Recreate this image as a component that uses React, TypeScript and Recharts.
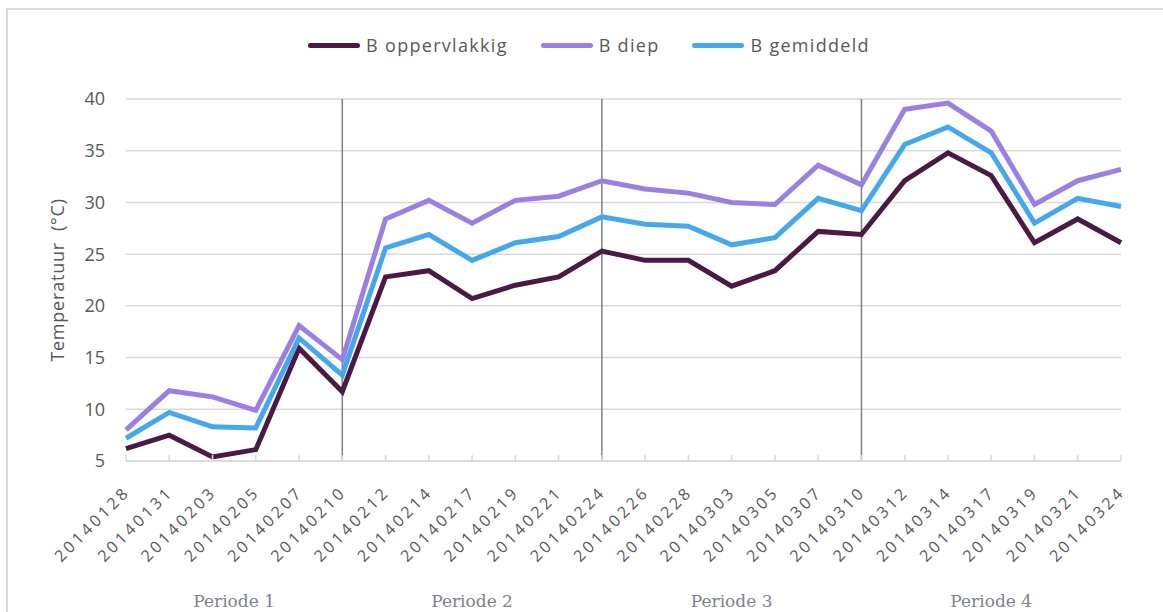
import React from "react";
import {
  LineChart,
  Line,
  XAxis,
  YAxis,
  CartesianGrid,
  ReferenceLine,
} from "recharts";

// Meetdagen (yyyymmdd) en gemeten temperaturen per sensor
const dates = [
  "20140128", "20140131", "20140203", "20140205", "20140207", "20140210",
  "20140212", "20140214", "20140217", "20140219", "20140221", "20140224",
  "20140226", "20140228", "20140303", "20140305", "20140307", "20140310",
  "20140312", "20140314", "20140317", "20140319", "20140321", "20140324",
];

const oppervlakkig = [
  6.2, 7.5, 5.4, 6.1, 15.9, 11.7,
  22.8, 23.4, 20.7, 22.0, 22.8, 25.3,
  24.4, 24.4, 21.9, 23.4, 27.2, 26.9,
  32.1, 34.8, 32.6, 26.1, 28.4, 26.1,
];

const diep = [
  8.0, 11.8, 11.2, 9.9, 18.1, 14.8,
  28.4, 30.2, 28.0, 30.2, 30.6, 32.1,
  31.3, 30.9, 30.0, 29.8, 33.6, 31.7,
  39.0, 39.6, 36.9, 29.8, 32.1, 33.2,
];

const gemiddeld = [
  7.2, 9.7, 8.3, 8.2, 16.9, 13.3,
  25.6, 26.9, 24.4, 26.1, 26.7, 28.6,
  27.9, 27.7, 25.9, 26.6, 30.4, 29.2,
  35.6, 37.3, 34.8, 28.0, 30.4, 29.6,
];

const series = [
  { key: "opp", name: "B oppervlakkig", color: "#4a1a45", values: oppervlakkig },
  { key: "diep", name: "B diep", color: "#9a80e4", values: diep },
  { key: "gem", name: "B gemiddeld", color: "#45a8ec", values: gemiddeld },
];

const yTicks = [5, 10, 15, 20, 25, 30, 35, 40];

// grenzen tussen de periodes en het midden van elke periode (index op de as)
const periodBounds = ["20140210", "20140224", "20140310"];
const periodNames = ["Periode 1", "Periode 2", "Periode 3", "Periode 4"];
const periodCenters = [2.5, 8, 14, 20];

const data = dates.map((d, i) => ({
  date: d,
  idx: i,
  opp: oppervlakkig[i],
  diep: diep[i],
  gem: gemiddeld[i],
}));

const TEXT = "#595959";
const GRID = "#d9d9d9";
const SANS = "'Open Sans', sans-serif";

function DateTick(props: any) {
  const { x, y, payload } = props;
  return (
    <g>
      <line x1={x} x2={x} y1={y} y2={y - 6} stroke={GRID} strokeWidth={1.5} />
      <text
        x={x + 5}
        y={y + 32}
        transform={`rotate(-45, ${x + 5}, ${y + 32})`}
        textAnchor="end"
        fontFamily={SANS}
        fontSize={16}
        letterSpacing={3.2}
        fill={TEXT}
      >
        {payload.value}
      </text>
    </g>
  );
}

function ChartLegend() {
  return (
    <div
      style={{
        position: "absolute",
        top: 33,
        left: 0,
        width: 1163,
        display: "flex",
        justifyContent: "center",
        gap: 33,
        paddingLeft: 15,
        boxSizing: "border-box",
        fontFamily: SANS,
        fontSize: 18,
        letterSpacing: 1.3,
        color: TEXT,
      }}
    >
      {series.map((s) => (
        <div key={s.key} style={{ display: "flex", alignItems: "center", gap: 6 }}>
          <span
            style={{
              display: "inline-block",
              width: 52,
              height: 5,
              borderRadius: 3,
              background: s.color,
            }}
          />
          <span>{s.name}</span>
        </div>
      ))}
    </div>
  );
}

export default function App() {
  return (
    <div
      style={{
        position: "absolute",
        left: 0,
        top: 0,
        width: 1163,
        height: 612,
        background: "#fff",
        overflow: "hidden",
      }}
    >
      <div
        style={{
          position: "absolute",
          left: 6,
          top: 8,
          width: 1200,
          height: 700,
          borderLeft: `2px solid ${GRID}`,
          borderTop: `2px solid ${GRID}`,
        }}
      />
      <ChartLegend />
      <LineChart
        width={1163}
        height={612}
        data={data}
        margin={{ top: 99, right: 42, bottom: 0, left: 36 }}
        style={{ position: "absolute", left: 0, top: 0 }}
      >
        <CartesianGrid vertical={false} stroke={GRID} strokeWidth={1.5} />
        <XAxis
          dataKey="date"
          height={125}
          interval={0}
          stroke={GRID}
          strokeWidth={1.5}
          tickLine={false}
          tickSize={0}
          tickMargin={0}
          tick={<DateTick />}
        />
        <XAxis
          xAxisId="period"
          dataKey="idx"
          type="number"
          domain={[0, dates.length - 1]}
          ticks={periodCenters}
          tickFormatter={(v: number) => periodNames[periodCenters.indexOf(v)]}
          height={26}
          axisLine={false}
          tickLine={false}
          tickSize={0}
          tickMargin={9}
          tick={{ fontFamily: "'DejaVu Serif', serif", fontSize: 17, fill: "#7d828e" }}
        />
        <YAxis
          domain={[5, 40]}
          ticks={yTicks}
          width={90}
          axisLine={false}
          tickLine={false}
          tickSize={0}
          tickMargin={21}
          tick={{ fontFamily: SANS, fontSize: 18, fill: TEXT }}
          label={{
            value: "Temperatuur\u00a0 (°C)",
            angle: -90,
            position: "insideLeft",
            offset: 22,
            textAnchor: "middle",
            fontFamily: SANS,
            fontSize: 18,
            letterSpacing: 0.8,
            fill: TEXT,
          }}
        />
        {periodBounds.map((d) => (
          <ReferenceLine key={d} x={d} stroke="#808080" strokeWidth={1.5} />
        ))}
        {series.map((s) => (
          <Line
            key={s.key}
            type="linear"
            dataKey={s.key}
            name={s.name}
            stroke={s.color}
            strokeWidth={5}
            dot={false}
            isAnimationActive={false}
          />
        ))}
      </LineChart>
    </div>
  );
}
